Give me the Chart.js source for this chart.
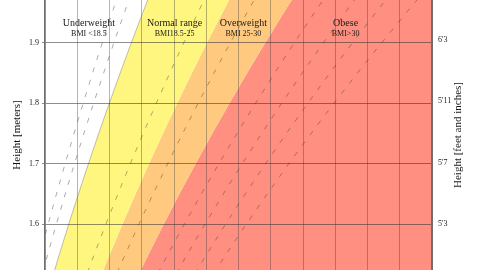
<!DOCTYPE html>
<html><head><meta charset="utf-8">
<script src="https://cdn.jsdelivr.net/npm/chart.js@4/dist/chart.umd.min.js"></script>
<style>html,body{margin:0;padding:0;background:#fff;overflow:hidden}#wrap{width:480px;height:270px;position:relative}</style>
</head><body><div id="wrap"><canvas id="c" width="480" height="270"></canvas></div>
<script>
// ---- data ----
const categories = ['Underweight', 'Normal range', 'Overweight', 'Obese'];
const categoryRanges = ['BMI <18.5', 'BMI18.5-25', 'BMI 25-30', 'BMI>30'];
const bmiBoundaries = [18.5, 25, 30];
const dashedBmi = [16, 17, 23, 27, 32.5, 35, 37.5, 40];
const heightsM = [1.50, 1.55, 1.60, 1.65, 1.70, 1.75, 1.80, 1.85, 1.90, 1.95, 2.00];
const weightRangeKg = [40, 160];
const heightRangeM = [1.5243, 1.9706];
const heightTicksM = [1.6, 1.7, 1.8, 1.9];
const heightTicksInches = [63, 67, 71, 75];
const heightTicksImperial = ["5'3", "5'7", "5'11", "6'3"];

// ---- build ----
const curve = bmi => heightsM.map(h => ({x: bmi * h * h, y: h}));
const edge = w => heightsM.map(h => ({x: w, y: h}));
const fills = ['rgb(255,246,128)', 'rgb(255,202,128)', 'rgb(255,143,128)'];

const datasets = [];
bmiBoundaries.forEach((b, i) => {
  datasets.push({
    data: curve(b), fill: '+1', backgroundColor: fills[i], order: 10,
    borderColor: i === 0 ? 'rgba(110,110,110,0.55)' : 'rgba(0,0,0,0)',
    borderWidth: i === 0 ? 0.8 : 0, pointRadius: 0, tension: 0
  });
});
datasets.push({data: edge(weightRangeKg[1] + 10), fill: false, borderWidth: 0, order: 10,
  borderColor: 'rgba(0,0,0,0)', pointRadius: 0});
dashedBmi.forEach(b => {
  datasets.push({
    data: curve(b), fill: false, borderColor: 'rgba(70,50,50,0.42)', borderWidth: 1, order: 1,
    borderDash: [5, 8], pointRadius: 0, tension: 0
  });
});

const labelAnchors = {
  weights: [53.6, 80.2, 101.5, 133.2],
  mainH: 1.9276, subH: 1.911
};

const annot = {
  id: 'annot',
  afterDraw(chart) {
    const {ctx, scales: {x, y}, chartArea} = chart;
    ctx.save();
    ctx.fillStyle = '#1a1a1a';
    ctx.textAlign = 'center';
    ctx.textBaseline = 'alphabetic';
    categories.forEach((name, i) => {
      const px = x.getPixelForValue(labelAnchors.weights[i]);
      ctx.font = '10px "Liberation Serif"';
      ctx.fillText(name, px, y.getPixelForValue(labelAnchors.mainH));
      ctx.font = '8px "Liberation Serif"';
      ctx.fillText(categoryRanges[i], px, y.getPixelForValue(labelAnchors.subH));
    });
    ctx.translate(458, (chartArea.top + chartArea.bottom) / 2);
    ctx.rotate(-Math.PI / 2);
    ctx.font = '11px "Liberation Serif"';
    ctx.textBaseline = 'middle';
    ctx.fillText('Height [feet and inches]', 0, 0);
    ctx.restore();
  }
};

const noPad = s => { s.paddingTop = 0; s.paddingBottom = 0; s.paddingLeft = 0; s.paddingRight = 0; };

new Chart(document.getElementById('c'), {
  type: 'line',
  data: {datasets},
  options: {
    indexAxis: 'y',
    responsive: false, animation: false, devicePixelRatio: 1,
    layout: {padding: 0, autoPadding: false},
    plugins: {legend: {display: false}, tooltip: {enabled: false}, filler: {propagate: false}},
    scales: {
      x: {
        type: 'linear', position: 'bottom', min: weightRangeKg[0], max: weightRangeKg[1],
        ticks: {display: false, stepSize: 10},
        grid: {color: 'rgba(60,60,60,0.38)', lineWidth: 1, drawTicks: false, z: 1},
        border: {display: false},
        afterFit: s => { s.height = 0; noPad(s); }
      },
      y: {
        type: 'linear', position: 'left', min: heightRangeM[0], max: heightRangeM[1],
        afterBuildTicks: s => { s.ticks = heightTicksM.map(v => ({value: v})); },
        ticks: {font: {family: 'Liberation Serif', size: 8}, color: '#222', padding: 3, z: 2,
          callback: v => v.toFixed(1)},
        grid: {color: 'rgba(50,50,50,0.55)', lineWidth: 1, tickLength: 3, z: 1},
        border: {display: true, color: '#6e6e6e', width: 1.5, z: 2},
        title: {display: true, text: 'Height [meters]', font: {family: 'Liberation Serif', size: 11},
          color: '#111', padding: {top: 11, bottom: 0}},
        afterFit: s => { s.width = 45; noPad(s); }
      },
      yr: {
        type: 'linear', axis: 'y', position: 'right', min: heightRangeM[0], max: heightRangeM[1],
        afterBuildTicks: s => { s.ticks = heightTicksInches.map(v => ({value: v * 0.0254})); },
        ticks: {font: {family: 'Liberation Serif', size: 8}, color: '#222', padding: 6,
          callback: (v, i) => heightTicksImperial[i]},
        grid: {drawOnChartArea: false, drawTicks: false},
        border: {display: true, color: '#6e6e6e', width: 2, z: 2},
        afterFit: s => { s.width = 48; noPad(s); }
      }
    }
  },
  plugins: [annot]
});
</script>
</body></html>
